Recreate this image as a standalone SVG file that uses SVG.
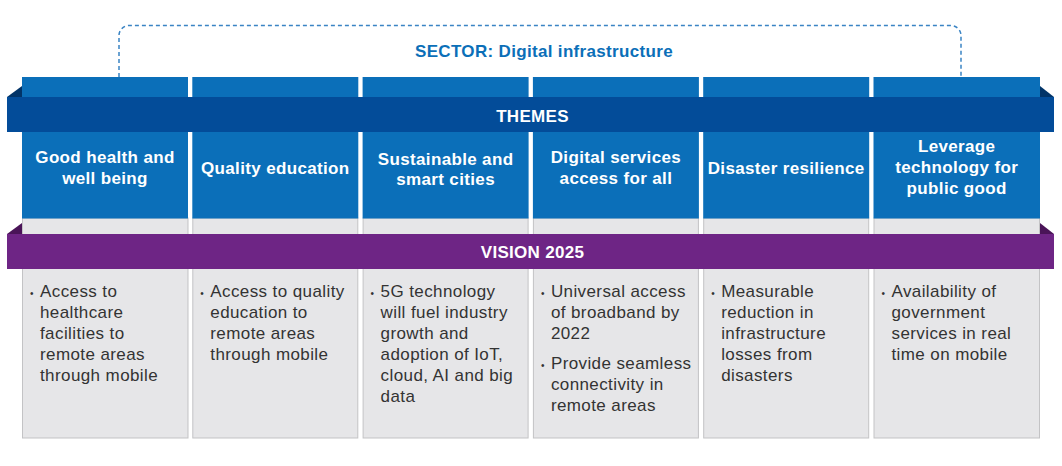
<svg xmlns="http://www.w3.org/2000/svg" width="1062" height="466" viewBox="0 0 1062 466">
<defs>
<style>
.hdr{fill:#0b6fb9}
.body{fill:#e6e6e8;stroke:#c3c3c5;stroke-width:1}
.ht{font-family:"Liberation Sans",Arial,sans-serif;font-weight:bold;font-size:17px;fill:#ffffff;text-anchor:middle;letter-spacing:0.35px}
.bt{font-family:"Liberation Sans",Arial,sans-serif;font-size:17px;fill:#333333;letter-spacing:0.4px}
.bul{font-size:10px;letter-spacing:0}
.band-t{font-family:"Liberation Sans",Arial,sans-serif;font-weight:bold;font-size:17px;fill:#ffffff;text-anchor:middle;letter-spacing:0.3px}
</style>
</defs>
<rect width="1062" height="466" fill="#ffffff"/>

<g id="sector">
<path d="M119,77 V35.5 A10,10 0 0 1 129,25.5 H951 A10,10 0 0 1 961,35.5 V77" fill="none" stroke="#3a84c4" stroke-width="1.5" stroke-dasharray="4 3"/>
<text x="544" y="57.3" font-family="'Liberation Sans',Arial,sans-serif" font-weight="bold" font-size="17" fill="#0b6fb8" text-anchor="middle" letter-spacing="0.33">SECTOR: Digital infrastructure</text>
</g>

<g id="col1">
<rect class="body" x="22.5" y="218" width="165.5" height="220"/>
<rect class="hdr" x="22" y="77" width="166" height="141.5"/>
<text class="ht" x="105" y="163.3">Good health and</text>
<text class="ht" x="105" y="184.3">well being</text>
<text class="bt" x="40" y="297.3"><tspan class="bul" x="30">•</tspan><tspan x="40">Access to</tspan></text>
<text class="bt" x="40" y="318.3">healthcare</text>
<text class="bt" x="40" y="339.3">facilities to</text>
<text class="bt" x="40" y="360.3">remote areas</text>
<text class="bt" x="40" y="381.3">through mobile</text>
</g>

<g id="col2">
<rect class="body" x="192.8" y="218" width="165" height="220"/>
<rect class="hdr" x="192.3" y="77" width="166" height="141.5"/>
<text class="ht" x="275.3" y="174.3">Quality education</text>
<text class="bt" y="297.3"><tspan class="bul" x="200.3">•</tspan><tspan x="210.3">Access to quality</tspan></text>
<text class="bt" x="210.3" y="318.3">education to</text>
<text class="bt" x="210.3" y="339.3">remote areas</text>
<text class="bt" x="210.3" y="360.3">through mobile</text>
</g>

<g id="col3">
<rect class="body" x="363.1" y="218" width="165" height="220"/>
<rect class="hdr" x="362.6" y="77" width="166" height="141.5"/>
<text class="ht" x="445.6" y="165.3">Sustainable and</text>
<text class="ht" x="445.6" y="184.5">smart cities</text>
<text class="bt" y="297.3"><tspan class="bul" x="370.6">•</tspan><tspan x="380.6">5G technology</tspan></text>
<text class="bt" x="380.6" y="318.3">will fuel industry</text>
<text class="bt" x="380.6" y="339.3">growth and</text>
<text class="bt" x="380.6" y="360.3">adoption of IoT,</text>
<text class="bt" x="380.6" y="381.3">cloud, AI and big</text>
<text class="bt" x="380.6" y="402.3">data</text>
</g>

<g id="col4">
<rect class="body" x="533.4" y="218" width="165" height="220"/>
<rect class="hdr" x="532.9" y="77" width="166" height="141.5"/>
<text class="ht" x="615.9" y="163.3">Digital services</text>
<text class="ht" x="615.9" y="183.5">access for all</text>
<text class="bt" y="297.3"><tspan class="bul" x="540.9">•</tspan><tspan x="550.9">Universal access</tspan></text>
<text class="bt" x="550.9" y="318.3">of broadband by</text>
<text class="bt" x="550.9" y="339.3">2022</text>
<text class="bt" y="368.5"><tspan class="bul" x="540.9">•</tspan><tspan x="550.9">Provide seamless</tspan></text>
<text class="bt" x="550.9" y="389.5">connectivity in</text>
<text class="bt" x="550.9" y="410.5">remote areas</text>
</g>

<g id="col5">
<rect class="body" x="703.7" y="218" width="165" height="220"/>
<rect class="hdr" x="703.2" y="77" width="166" height="141.5"/>
<text class="ht" x="786.2" y="173.5" letter-spacing="0.1">Disaster resilience</text>
<text class="bt" y="297.3"><tspan class="bul" x="711.2">•</tspan><tspan x="721.2">Measurable</tspan></text>
<text class="bt" x="721.2" y="318.3">reduction in</text>
<text class="bt" x="721.2" y="339.3">infrastructure</text>
<text class="bt" x="721.2" y="360.3">losses from</text>
<text class="bt" x="721.2" y="381.3">disasters</text>
</g>

<g id="col6">
<rect class="body" x="874" y="218" width="165.5" height="220"/>
<rect class="hdr" x="873.5" y="77" width="166.5" height="141.5"/>
<text class="ht" x="956.7" y="151.7">Leverage</text>
<text class="ht" x="956.7" y="173.3">technology for</text>
<text class="ht" x="956.7" y="194.3">public good</text>
<text class="bt" y="297.3"><tspan class="bul" x="881.5">•</tspan><tspan x="891.5">Availability of</tspan></text>
<text class="bt" x="891.5" y="318.3">government</text>
<text class="bt" x="891.5" y="339.3">services in real</text>
<text class="bt" x="891.5" y="360.3">time on mobile</text>
</g>

<g id="themes">
<polygon points="7,97 22,86 22,97" fill="#023468"/>
<polygon points="1040,86 1054,97 1040,97" fill="#023468"/>
<rect x="7" y="97" width="1047" height="35" fill="#034c99"/>
<text class="band-t" x="532.5" y="121.5">THEMES</text>
</g>

<g id="vision">
<polygon points="7,234 22,223 22,234" fill="#4a1458"/>
<polygon points="1040,223 1054,234 1040,234" fill="#4a1458"/>
<rect x="7" y="234" width="1047" height="35" fill="#6e2585"/>
<text class="band-t" x="532.5" y="258">VISION 2025</text>
</g>
</svg>
